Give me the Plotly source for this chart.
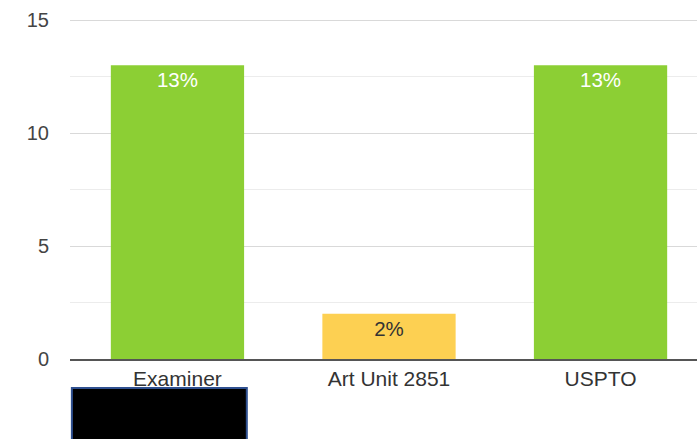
import plotly.graph_objects as go

categories = ["Examiner", "Art Unit 2851", "USPTO"]
values = [13, 2, 13]
labels = ["13%", "2%", "13%"]
bar_colors = ["#8ccf34", "#fdd052", "#8ccf34"]
label_colors = ["#ffffff", "#333333", "#ffffff"]

fig = go.Figure()
fig.add_trace(go.Bar(
    x=categories,
    y=values,
    text=labels,
    textposition="inside",
    insidetextanchor="end",
    textangle=0,
    marker=dict(color=bar_colors, line=dict(width=0)),
    textfont=dict(family="Liberation Sans, Arial, sans-serif", size=20.5,
                  color=label_colors),
    width=0.63,
    hoverinfo="skip",
))

fig.update_layout(
    width=697, height=439,
    margin=dict(l=70, r=0, t=18, b=80),
    paper_bgcolor="white",
    plot_bgcolor="white",
    showlegend=False,
    font=dict(family="Liberation Sans, Arial, sans-serif", size=20, color="#333333"),
    xaxis=dict(
        range=[-0.508, 2.456],
        showgrid=False,
        showline=True, linecolor="#555555", linewidth=2,
        ticks="", tickfont=dict(size=21, color="#333333"),
        fixedrange=True,
    ),
    yaxis=dict(
        range=[0, 15.09],
        tickvals=[0, 5, 10, 15],
        showgrid=True, gridcolor="#d9d9d9", gridwidth=1,
        minor=dict(tickvals=[2.5, 7.5, 12.5], showgrid=True, gridcolor="#ececec", gridwidth=1),
        zeroline=False,
        showline=False,
        ticks="", ticklabelstandoff=20,
        tickfont=dict(size=20, color="#444444"),
        fixedrange=True,
    ),
    shapes=[dict(
        type="rect", xref="paper", yref="paper",
        x0=0.003, x1=0.282, y0=-0.3, y1=-0.085,
        fillcolor="#000000", line=dict(color="#2f5090", width=2),
    )],
)

fig.write_html(
    "out.html",
    config={"displayModeBar": False},
    post_script="document.body.style.margin='0';document.body.style.overflow='hidden';",
)
